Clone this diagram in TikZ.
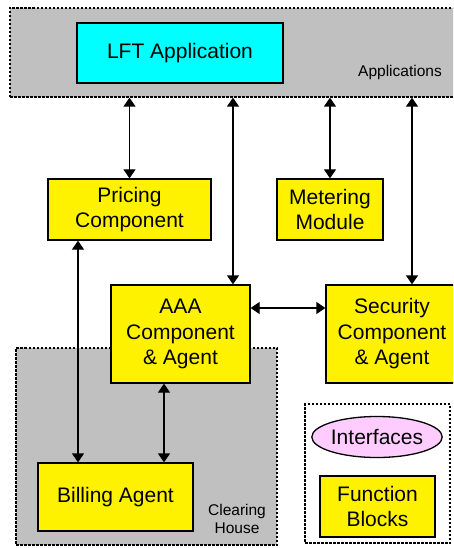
\documentclass[tikz,border=0pt]{standalone}
\usepackage{fontspec}
\setmainfont{Liberation Sans}
\usetikzlibrary{arrows.meta,shapes.geometric}
\definecolor{regiongray}{HTML}{C0C0C0}
\definecolor{ifpink}{HTML}{FFCCFF}
\definecolor{appcyan}{HTML}{00FFFF}

\begin{document}
\begin{tikzpicture}[x=1pt, y=-1pt, >={Triangle[width=12pt,length=9pt]},
		font=\fontsize{21}{25.5}\selectfont,
		region/.style={draw, line width=1.3pt, dash pattern=on 2.5pt off 1.5pt, inner sep=0pt},
		block/.style={draw, line width=1.3pt, fill=yellow, align=center, inner sep=0pt},
		link/.style={<->, line width=1.3pt},
		small/.style={font=\fontsize{15.5}{18}\selectfont, align=center}]
		\clip (0,0) rectangle (453,548);
		\node[region, fill=regiongray, minimum width=450pt, minimum height=89pt] (apps) at (235,52.5) {};
		\node[region, fill=regiongray, minimum width=261pt, minimum height=197pt] (clearing) at (146.5,446.5) {};
		\node[region, minimum width=145pt, minimum height=139pt] (legend) at (377.5,473.5) {};
		\node[small] (applbl) at (400,72) {Applications};
		\node[small] (chlbl) at (237,519) {Clearing\\House};
		\node[block, fill=appcyan, minimum width=206pt, minimum height=60pt] (lft) at (180,53) {LFT Application};
		\node[block, minimum width=163pt, minimum height=61pt] (pricing) at (129.5,209.5) {Pricing\\Component};
		\node[block, minimum width=106pt, minimum height=61pt] (metering) at (330,209.5) {Metering\\Module};
		\node[block, minimum width=139pt, minimum height=98pt] (aaa) at (180.5,334) {AAA\\Component\\\& Agent};
		\node[block, minimum width=132pt, minimum height=98pt] (security) at (392,334) {Security\\Component\\\& Agent};
		\node[block, minimum width=155pt, minimum height=68pt] (billing) at (115.5,497) {Billing Agent};
		\node[ellipse, draw, line width=1.3pt, fill=ifpink, minimum width=125pt, minimum height=41pt, inner sep=0pt] (iface) at (377,437) {Interfaces};
		\node[block, minimum width=115pt, minimum height=61pt] (fblocks) at (377.5,506.5) {Function\\Blocks};
		\coordinate (aaaup) at (233,0);
		\coordinate (secup) at (412,0);
		\coordinate (billa) at (78,0);
		\coordinate (billb) at (164,0);
		\coordinate (side) at (0,308);
		\draw[link] (apps.south -| pricing) -- (pricing.north);
		\draw[link] (apps.south -| aaaup) -- (aaa.north -| aaaup);
		\draw[link] (apps.south -| metering) -- (metering.north);
		\draw[link] (apps.south -| secup) -- (security.north -| secup);
		\draw[link] (pricing.south -| billa) -- (billing.north -| billa);
		\draw[link] (aaa.south -| billb) -- (billing.north -| billb);
		\draw[link] (aaa.east |- side) -- (security.west |- side);
	\end{tikzpicture}
\end{document}
